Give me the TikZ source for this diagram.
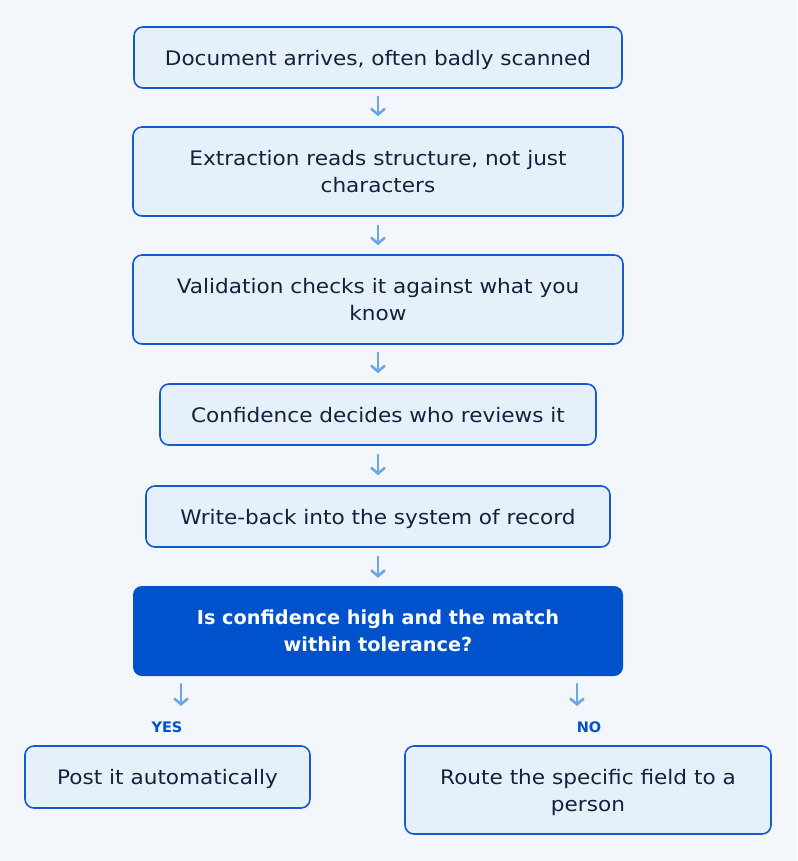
\documentclass[tikz,border=0pt]{standalone}
\usepackage{fontspec}
\setmainfont{DejaVu Sans}[FakeStretch=1.08]
\newfontfamily\decfont{DejaVu Sans}
\usetikzlibrary{arrows.meta}
\definecolor{bg}{HTML}{F3F7FC}
\definecolor{boxfill}{HTML}{E6F0FB}
\definecolor{boxline}{HTML}{1559D0}
\definecolor{dark}{HTML}{0052CC}
\definecolor{arr}{HTML}{6AA6E8}
\definecolor{txt}{HTML}{14213D}
\tikzset{
  stepbox/.style={draw=boxline, line width=1.6pt, fill=boxfill, rounded corners=9pt, text=txt, font=\fontsize{20}{27}\selectfont, align=center, inner sep=0pt, text depth=0pt},
  decbox/.style={fill=dark, rounded corners=9pt, text=white, font=\decfont\fontsize{19.3}{27}\selectfont\bfseries, align=center, inner sep=0pt},
  flow/.style={draw=arr, line width=2.6pt, line cap=round, -{Straight Barb[length=5.5pt,width=13pt,line cap=round]}},
  lab/.style={text=dark, font=\decfont\fontsize{14.5}{16}\selectfont\bfseries}
}
\begin{document}
\begin{tikzpicture}[x=1pt,y=-1pt]
\fill[bg] (0,0) rectangle (797,861);
\useasboundingbox (0,0) rectangle (797,861);
\node[stepbox, minimum width=488pt, minimum height=61pt] (b1) at (378,57.5) {Document arrives, often badly scanned};
\node[stepbox, minimum width=490pt, minimum height=89pt] (b2) at (378,171.5) {Extraction reads structure, not just\\characters};
\node[stepbox, minimum width=490pt, minimum height=89pt] (b3) at (378,299.5) {Validation checks it against what you\\know};
\node[stepbox, minimum width=436pt, minimum height=61pt] (b4) at (378,414.5) {Confidence decides who reviews it};
\node[stepbox, minimum width=464pt, minimum height=61pt] (b5) at (378,516.5) {Write-back into the system of record};
\node[decbox, minimum width=490pt, minimum height=90pt] (b6) at (378,631) {Is confidence high and the match\\within tolerance?};
\node[stepbox, minimum width=285pt, minimum height=62pt] (b7) at (167.5,777) {Post it automatically};
\node[stepbox, minimum width=366pt, minimum height=88pt] (b8) at (588,790) {Route the specific field to a\\person};
\node[lab] (yes) at (167,727) {YES};
\node[lab] (no) at (589,727) {NO};
\draw[flow] ([yshift=-8pt]b1.south) -- ([yshift=10pt]b2.north);
\draw[flow] ([yshift=-9pt]b2.south) -- ([yshift=9pt]b3.north);
\draw[flow] ([yshift=-8pt]b3.south) -- ([yshift=10pt]b4.north);
\draw[flow] ([yshift=-9pt]b4.south) -- ([yshift=10pt]b5.north);
\draw[flow] ([yshift=-9pt]b5.south) -- ([yshift=8pt]b6.north);
\coordinate (ys) at (181,684);
\coordinate (ye) at (181,706);
\coordinate (ns) at (577,684);
\coordinate (ne) at (577,706);
\draw[flow] (ys) -- (ye);
\draw[flow] (ns) -- (ne);
\end{tikzpicture}
\end{document}
